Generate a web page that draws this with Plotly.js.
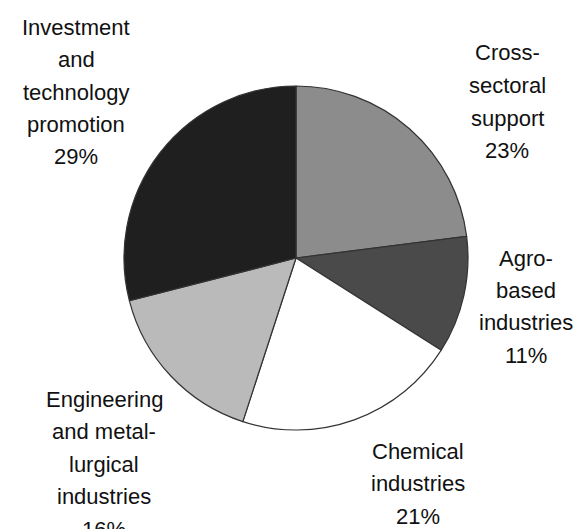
<!DOCTYPE html>
<html>
<head>
<meta charset="utf-8">
<script src="https://cdn.plot.ly/plotly-3.0.1.min.js"></script>
<style>html,body{margin:0;padding:0;background:#fff;}#chart{width:579px;height:529px;}</style>
</head>
<body>
<div id="chart"></div>
<script>
// Data
const categories = [
  "Cross-<br>sectoral<br>support",
  "Agro-<br>based<br>industries",
  "Chemical<br>industries",
  "Engineering<br>and metal-<br>lurgical<br>industries",
  "Investment<br>and<br>technology<br>promotion"
];
const shares = [23, 11, 21, 16, 29];
const sliceColors = ["#8c8c8c", "#4a4a4a", "#ffffff", "#bababa", "#1f1f1f"];

// label block anchors (pixels) — layout only
const labelPos = [
  {x: 507, y: 53},
  {x: 526, y: 258},
  {x: 418, y: 451},
  {x: 104, y: 399},
  {x: 76,  y: 27}
];
const lineGap = 32.5;
const W = 579, H = 529;

const annotations = [];
categories.forEach((cat, i) => {
  const lines = cat.split("<br>").concat([shares[i] + "%"]);
  lines.forEach((ln, j) => {
    annotations.push({
      xref: "paper", yref: "paper",
      x: labelPos[i].x / W,
      y: 1 - (labelPos[i].y + j * lineGap) / H,
      xanchor: "center", yanchor: "middle",
      text: ln, showarrow: false,
      font: {family: "Liberation Sans, Arial, sans-serif", size: 22, color: "#111"}
    });
  });
});

const cx = 296, cy = 258, r = 172;
const trace = {
  type: "pie",
  labels: categories.map(c => c.replace(/<br>/g, " ")),
  values: shares,
  sort: false,
  direction: "clockwise",
  rotation: 0,
  textinfo: "none",
  hoverinfo: "label+percent",
  marker: {colors: sliceColors, line: {color: "#333333", width: 1.2}},
  domain: {
    x: [(cx - r) / W, (cx + r) / W],
    y: [(H - cy - r) / H, (H - cy + r) / H]
  }
};

Plotly.newPlot("chart", [trace], {
  width: W, height: H,
  margin: {l: 0, r: 0, t: 0, b: 0},
  showlegend: false,
  paper_bgcolor: "#ffffff",
  annotations: annotations
}, {displayModeBar: false, staticPlot: true});
</script>
</body>
</html>
